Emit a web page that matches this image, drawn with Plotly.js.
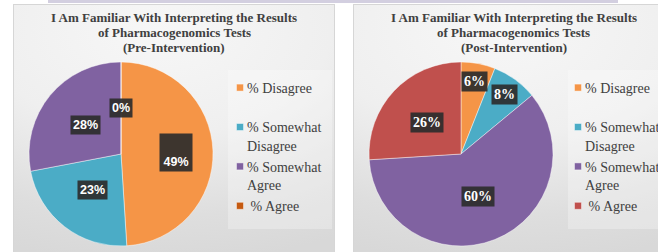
<!DOCTYPE html>
<html>
<head>
<meta charset="utf-8">
<script src="https://cdn.plot.ly/plotly-3.0.1.min.js"></script>
<style>
  html, body { margin: 0; padding: 0; background: #ffffff; }
  #wrap { position: relative; width: 658px; height: 252px; overflow: hidden; }
  .panel { position: absolute; top: 4px; height: 260px; box-sizing: border-box;
           border: 1px solid #d6d6d6;
           background: radial-gradient(ellipse 120% 90% at 45% 10%, #f7f7f7 0%, #efefef 45%, #dedede 80%, #d8d8d8 100%); }
  #p1 { left: 13px; width: 322px; }
  #p2 { left: 353px; width: 330px; }
  #topbar { position: absolute; top: 0; left: 48px; width: 570px; height: 3px; background: #d3cfe0; }
  #chart1 { position: absolute; left: 0; top: 0; width: 340px; height: 252px; }
  #chart2 { position: absolute; left: 340px; top: 0; width: 318px; height: 252px; }
</style>
</head>
<body>
<div id="wrap">
  <div id="topbar"></div>
  <div class="panel" id="p1"></div>
  <div class="panel" id="p2"></div>
  <div id="chart1"></div>
  <div id="chart2"></div>
</div>
<script>
// ---- data ----
var categories = ['% Disagree', '% Somewhat<br>Disagree', '% Somewhat<br>Agree', ' % Agree'];
var preValues = [49, 23, 28, 0];
var postValues = [6, 8, 60, 26];
var chartTitleLines = ['I Am Familiar With Interpreting the Results', 'of Pharmacogenomics Tests'];
var preSubtitle = '(Pre-Intervention)';
var postSubtitle = '(Post-Intervention)';

// ---- styles ----
var preColors = ['#F59547', '#4BACC6', '#8062A1', '#C55A11'];
var postColors = ['#F59547', '#4BACC6', '#8062A1', '#C0504D'];
var preLabelRadius = [0.6, 0.5, 0.5, 0.5];
var postLabelRadius = [0.8, 0.8, 0.5, 0.5];

var H = 252;
// legend entries: pad first single-line entry to match the slot spacing
var legendLabels = categories.map(function (c, i) { return i === 0 ? c + '<br> ' : c; });

function makeChart(divId, W, values, colors, radius, labelFont, special, subtitle, titleX, pie, legendX, legendBox) {
  var annotations = [];
  var total = values.reduce(function (a, b) { return a + b; }, 0);
  var cx = (pie.x0 + pie.x1) / 2, cy = (pie.y0 + pie.y1) / 2, r = (pie.x1 - pie.x0) / 2;
  var cum = 0;
  values.forEach(function (v, i) {
    var th = 2 * Math.PI * (cum + v / 2) / total;
    cum += v;
    var px = cx + radius[i] * r * Math.sin(th);
    var py = cy - radius[i] * r * Math.cos(th);
    var a = {
      xref: 'paper', yref: 'paper', x: px / W, y: 1 - py / H,
      xanchor: 'center', yanchor: 'middle', showarrow: false,
      text: Math.round(v / total * 100) + '%', font: labelFont,
      bgcolor: 'rgba(45,45,45,0.92)', borderpad: 2
    };
    if (special && special[i]) { Object.assign(a, special[i]); }
    annotations.push(a);
  });

  var titleFont = {family: 'Liberation Serif, Times New Roman, serif', size: 13, color: '#404040', weight: 'bold'};
  chartTitleLines.concat([subtitle]).forEach(function (ln, k) {
    annotations.push({
      xref: 'paper', yref: 'paper', x: titleX / W, y: 1 - (17.5 + 15 * k) / H,
      xanchor: 'center', yanchor: 'middle', showarrow: false,
      text: ln, font: titleFont
    });
  });

  var trace = {
    type: 'pie', values: values, labels: legendLabels,
    domain: {x: [pie.x0 / W, pie.x1 / W], y: [1 - pie.y1 / H, 1 - pie.y0 / H]},
    sort: false, direction: 'clockwise', rotation: 0, textinfo: 'none', hoverinfo: 'none',
    marker: {colors: colors, line: {color: 'rgba(255,255,255,0.55)', width: 0.8}},
    showlegend: true
  };

  var layout = {
    width: W, height: H,
    margin: {l: 0, r: 0, t: 0, b: 0, autoexpand: false},
    paper_bgcolor: 'rgba(0,0,0,0)', plot_bgcolor: 'rgba(0,0,0,0)',
    showlegend: true,
    legend: {x: legendX / W, y: 1 - 72 / H, xanchor: 'left', yanchor: 'top', valign: 'top',
             font: {family: 'Liberation Serif, Times New Roman, serif', size: 14, color: '#404040'},
             bgcolor: 'rgba(0,0,0,0)', traceorder: 'normal'},
    shapes: [
      {type: 'rect', xref: 'paper', yref: 'paper', x0: legendBox[0] / W, x1: legendBox[1] / W,
       y0: 1 - 229 / H, y1: 1 - 70 / H,
       fillcolor: 'rgba(255,255,255,0.28)', line: {width: 0}, layer: 'below'}
    ],
    annotations: annotations
  };

  return Plotly.newPlot(divId, [trace], layout, {staticPlot: true, displayModeBar: false}).then(function () {
    document.querySelectorAll('#' + divId + ' .legendpie').forEach(function (el) {
      el.setAttribute('d', 'M3.5,3.5H-3.5V-3.5H3.5Z');
      var tr = el.getAttribute('transform') || '';
      var m = tr.match(/translate\(([-\d.]+)[ ,]*([-\d.]*)\)/);
      var ty = m && m[2] ? parseFloat(m[2]) : 0;
      el.setAttribute('transform', 'translate(33,' + ty + ')');
    });
  });
}

makeChart('chart1', 340, preValues, preColors, preLabelRadius,
  {family: 'Liberation Sans, Arial, sans-serif', size: 12.5, color: '#ffffff', weight: 'bold'},
  {0: {height: 33, width: 28, valign: 'bottom'}},
  preSubtitle, 174, {x0: 29, x1: 213, y0: 62, y1: 246}, 207, [228, 332]);

makeChart('chart2', 318, postValues, postColors, postLabelRadius,
  {family: 'Liberation Serif, Times New Roman, serif', size: 14, color: '#ffffff', weight: 'bold'},
  null,
  postSubtitle, 173.5, {x0: 29, x1: 213, y0: 62, y1: 246}, 205, [228, 330]);
</script>
</body>
</html>
